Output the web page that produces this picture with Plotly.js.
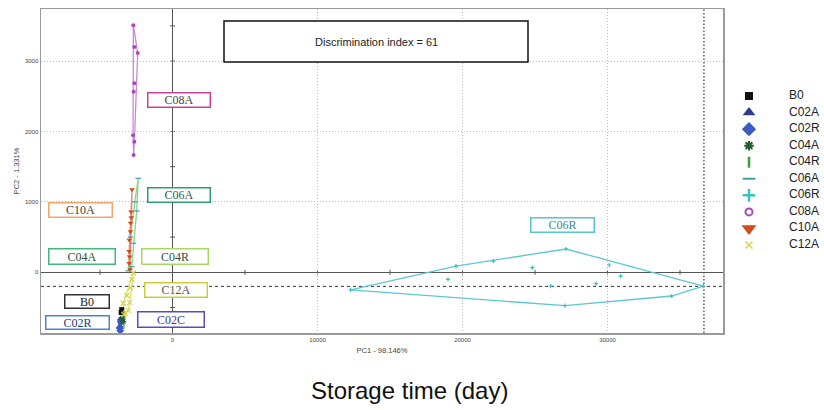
<!DOCTYPE html>
<html>
<head>
<meta charset="utf-8">
<script src="https://cdn.plot.ly/plotly-3.0.1.min.js"></script>
<style>html,body{margin:0;padding:0;background:#fff}#chart{width:824px;height:410px}</style>
</head>
<body>
<div id="chart"></div>
<script>
// ---------------- data ----------------
const categories = ['B0','C02A','C02R','C04A','C04R','C06A','C06R','C08A','C10A','C12A'];

const pc1_B0   = [-3500, -3540];
const pc2_B0   = [-530, -570];
const pc1_C02A = [-3600, -3560, -3620];
const pc2_C02A = [-660, -720, -760];
const pc1_C02R = [-3650, -3600, -3580];
const pc2_C02R = [-790, -830, -700];
const pc1_C04A = [-3400, -3450];
const pc2_C04A = [-700, -650];
const pc1_C04R = [-3300, -3350];
const pc2_C04R = [-600, -760];
const pc1_C06A = [-2360, -2470, -2700, -2810, -3050, -2900, -2600];
const pc2_C06A = [1335, 870, 412, 80, 20, 500, 1000];
const pc1_C06R = [12290, 19550, 22125, 27138, 30124, 36607, 34427, 27069, 19000, 24814, 26083, 29207, 30910];
const pc2_C06R = [-251, 89, 160, 331, 104, -195, -337, -474, -100, 66, -195, -162, -53];
const pc1_C08A = [-2700, -2630, -2400, -2630, -2680, -2720, -2630, -2680];
const pc2_C08A = [3510, 3200, 3115, 2685, 2565, 1945, 1855, 1665];
const pc1_C10A = [-2790, -2860, -2840, -2890, -2900, -2980, -2990, -2950, -2990, -2930];
const pc2_C10A = [1175, 860, 780, 700, 580, 460, 300, 220, 130, 40];
const pc1_C12A = [-2700, -2800, -2900, -3050, -3150, -3400, -3350, -3250, -2950];
const pc2_C12A = [-10, -100, -220, -540, -330, -440, -600, -580, -430];

const labelTexts = ['C08A','C06A','C10A','C04A','C04R','C12A','B0','C02R','C02C','C06R'];
const discriminationIndex = 61;
const pc1Label = 'PC1 - 98.146%';
const pc2Label = 'PC2 - 1.331%';
const xTickVals = [0, 10000, 20000, 30000];
const yTickVals = [0, 1000, 2000, 3000];
const refLinePC2 = -200;
const refLinePC1 = 36650;

// ---------------- styles ----------------
const W = 824, H = 410;
const plotL = 41, plotR = 723, plotT = 9, plotB = 333;
const px = v => v / W;
const py = v => 1 - v / H;

const groups = {
  B0:   {x: pc1_B0,   y: pc2_B0,   sym: 'square',        col: '#111111', size: 5, hull: null},
  C02A: {x: pc1_C02A, y: pc2_C02A, sym: 'triangle-up',   col: '#2b3990', size: 6, hull: null},
  C02R: {x: pc1_C02R, y: pc2_C02R, sym: 'diamond',       col: '#3a5bbf', size: 6, hull: null},
  C04A: {x: pc1_C04A, y: pc2_C04A, sym: 'asterisk-open', col: '#1f5f2a', size: 5, hull: null},
  C04R: {x: pc1_C04R, y: pc2_C04R, sym: 'line-ns-open',  col: '#3aa040', size: 5, hull: null},
  C06A: {x: pc1_C06A, y: pc2_C06A, sym: 'line-ew-open',  col: '#3fa0a0', size: 4, hull: '#8fd08f'},
  C06R: {x: pc1_C06R, y: pc2_C06R, sym: 'cross-thin-open', col: '#3cc0c8', size: 3, hull: '#5cc8d0'},
  C08A: {x: pc1_C08A, y: pc2_C08A, sym: 'circle',        col: '#a848bc', size: 4, hull: '#c88ad8'},
  C10A: {x: pc1_C10A, y: pc2_C10A, sym: 'triangle-down', col: '#d24a1e', size: 5, hull: '#e48a70'},
  C12A: {x: pc1_C12A, y: pc2_C12A, sym: 'x-thin-open',   col: '#d8d050', size: 5, hull: '#e4e070'}
};

const legendStyle = {
  B0:   {sym: 'square',          col: '#111111', size: 8,  lw: 0},
  C02A: {sym: 'triangle-up',     col: '#2b3990', size: 11, lw: 0},
  C02R: {sym: 'diamond',         col: '#3a5bbf', size: 11, lw: 0},
  C04A: {sym: 'asterisk-open',   col: '#1f5f2a', size: 8,  lw: 2},
  C04R: {sym: 'line-ns-open',    col: '#3aa040', size: 8,  lw: 2.5},
  C06A: {sym: 'line-ew-open',    col: '#3fa0a0', size: 9,  lw: 2},
  C06R: {sym: 'cross-thin-open', col: '#3cc0c8', size: 9,  lw: 2.5},
  C08A: {sym: 'circle-open',     col: '#a848bc', size: 7,  lw: 2},
  C10A: {sym: 'triangle-down',   col: '#d24a1e', size: 13, lw: 0},
  C12A: {sym: 'x-thin-open',     col: '#d8d050', size: 7,  lw: 1.5}
};

const labelBoxes = [
  {c: '#c8409c', tc: '#444444', cx: 179.2, cy: 100,   w: 63, h: 15},
  {c: '#2e9c7c', tc: '#2e5858', cx: 179.2, cy: 195,   w: 63, h: 15},
  {c: '#f4a468', tc: '#4a4040', cx: 80.3,  cy: 210,   w: 64, h: 15},
  {c: '#44b87a', tc: '#2a5040', cx: 82,    cy: 256,   w: 67, h: 16},
  {c: '#a8d860', tc: '#3a5040', cx: 174.7, cy: 256.3, w: 67, h: 16},
  {c: '#cccc3c', tc: '#555540', cx: 176,   cy: 290,   w: 63, h: 15},
  {c: '#333333', tc: '#222222', cx: 86.7,  cy: 301,   w: 45, h: 14},
  {c: '#4a84cc', tc: '#2a3a7a', cx: 77.7,  cy: 322.8, w: 64, h: 14},
  {c: '#5a4cb4', tc: '#3a3a8a', cx: 170.7, cy: 319.3, w: 67, h: 16},
  {c: '#56c4cc', tc: '#3a8a94', cx: 562.2, cy: 224.8, w: 64, h: 15}
];

// convex hull (monotone chain)
function hull(xs, ys) {
  const p = xs.map((x, i) => [x, ys[i]]).sort((a, b) => a[0] - b[0] || a[1] - b[1]);
  if (p.length < 3) return p;
  const cross = (o, a, b) => (a[0]-o[0])*(b[1]-o[1]) - (a[1]-o[1])*(b[0]-o[0]);
  const lower = [], upper = [];
  for (const q of p) { while (lower.length >= 2 && cross(lower[lower.length-2], lower[lower.length-1], q) <= 0) lower.pop(); lower.push(q); }
  for (let i = p.length - 1; i >= 0; i--) { const q = p[i]; while (upper.length >= 2 && cross(upper[upper.length-2], upper[upper.length-1], q) <= 0) upper.pop(); upper.push(q); }
  upper.pop(); lower.pop();
  const h = lower.concat(upper);
  h.push(h[0]);
  return h;
}

const traces = [];
categories.forEach(k => {
  const g = groups[k];
  if (g.hull) {
    const h = hull(g.x, g.y);
    traces.push({type: 'scatter', mode: 'lines', x: h.map(q => q[0]), y: h.map(q => q[1]),
      line: {color: g.hull, width: 1.3}, showlegend: false, hoverinfo: 'skip'});
  }
});
categories.forEach(k => {
  const g = groups[k];
  const open = g.sym.indexOf('open') >= 0;
  traces.push({type: 'scatter', mode: 'markers', name: k, x: g.x, y: g.y, showlegend: false,
    marker: {symbol: g.sym, size: g.size, color: g.col, opacity: 1, line: {color: g.col, width: open ? 1.2 : 0}}});
});

// manual legend on its own overlay axes
const legIdx = categories.map((c, i) => i);
traces.push({type: 'scatter', mode: 'markers', xaxis: 'x2', yaxis: 'y2', showlegend: false, hoverinfo: 'skip',
  x: categories.map(() => 19), y: legIdx,
  marker: {symbol: categories.map(k => legendStyle[k].sym), size: categories.map(k => legendStyle[k].size),
    color: categories.map(k => legendStyle[k].col), opacity: 1,
    line: {color: categories.map(k => legendStyle[k].col), width: categories.map(k => legendStyle[k].lw)}}});
traces.push({type: 'scatter', mode: 'text', xaxis: 'x2', yaxis: 'y2', showlegend: false, hoverinfo: 'skip',
  x: categories.map(() => 59), y: legIdx, text: categories, textposition: 'middle right',
  textfont: {family: 'Liberation Sans, Arial, sans-serif', size: 12, color: '#222'}});

// shapes
const shapes = [];
shapes.push({type: 'line', xref: 'x domain', yref: 'y', x0: 0, x1: 1, y0: refLinePC2, y1: refLinePC2,
  line: {color: '#333', width: 1, dash: '3px,3px'}, layer: 'below'});
shapes.push({type: 'line', xref: 'x', yref: 'y domain', x0: refLinePC1, x1: refLinePC1, y0: 0, y1: 1,
  line: {color: '#444', width: 1.3, dash: '1.5px,2px'}, layer: 'below'});
for (let v = -5000; v <= 35000; v += 5000) {
  if (v === 0) continue;
  shapes.push({type: 'line', xref: 'x', yref: 'y', x0: v, x1: v, y0: -35, y1: 35, line: {color: '#555', width: 1}, layer: 'below'});
}
for (let v = -500; v <= 3500; v += 500) {
  if (v === 0) continue;
  shapes.push({type: 'line', xref: 'x', yref: 'y', x0: -170, x1: 170, y0: v, y1: v, line: {color: '#555', width: 1}, layer: 'below'});
}
shapes.push({type: 'rect', xref: 'paper', yref: 'paper', x0: px(224), x1: px(528), y0: py(62), y1: py(21),
  line: {color: '#111', width: 1.5}, fillcolor: '#fff', layer: 'above'});

const annotations = [];
annotations.push({xref: 'paper', yref: 'paper', x: px(376), y: py(42), xanchor: 'center', yanchor: 'middle',
  text: 'Discrimination index = ' + discriminationIndex, showarrow: false,
  font: {family: 'Liberation Sans, Arial, sans-serif', size: 11, color: '#222'}});
labelTexts.forEach((t, i) => {
  const b = labelBoxes[i];
  annotations.push({xref: 'paper', yref: 'paper', x: px(b.cx), y: py(b.cy), xanchor: 'center', yanchor: 'middle',
    text: t, showarrow: false, width: b.w - 4, height: b.h - 4, borderpad: 1, bordercolor: b.c, borderwidth: 1.5,
    bgcolor: '#fff', font: {family: 'Liberation Serif, Times New Roman, serif', size: 12, color: b.tc}});
});
annotations.push({xref: 'paper', yref: 'paper', x: px(409), y: py(390), xanchor: 'center', yanchor: 'middle',
  text: 'Storage time (day)', showarrow: false,
  font: {family: 'Liberation Sans, Arial, sans-serif', size: 24, color: '#111'}});

const xPerPx = 10000 / 145, yPerPx = 1000 / 70.4;
const gridStyle = {showgrid: true, gridcolor: '#bdbdbd', griddash: '1px,2px', gridwidth: 1,
  zeroline: true, zerolinecolor: '#555', zerolinewidth: 1,
  showline: true, mirror: true, linecolor: '#9a9a9a', linewidth: 1.5, ticks: '',
  tickfont: {family: 'Liberation Sans, Arial, sans-serif', size: 6, color: '#444'}};
const layout = {
  width: W, height: H, margin: {l: 0, r: 0, t: 0, b: 0},
  paper_bgcolor: '#fff', plot_bgcolor: '#fff', showlegend: false,
  xaxis: Object.assign({domain: [px(plotL), px(plotR)], range: [(plotL - 172.5) * xPerPx, (plotR - 172.5) * xPerPx],
    tickvals: xTickVals, ticktext: xTickVals.map(String),
    title: {text: pc1Label, standoff: 6, font: {family: 'Liberation Sans, Arial, sans-serif', size: 7.5, color: '#444'}}}, gridStyle),
  yaxis: Object.assign({domain: [py(plotB), py(plotT)], range: [(272.3 - plotB) * yPerPx, (272.3 - plotT) * yPerPx],
    tickvals: yTickVals, ticktext: yTickVals.map(String),
    title: {text: pc2Label, standoff: 4, font: {family: 'Liberation Sans, Arial, sans-serif', size: 7.5, color: '#444'}}}, gridStyle),
  xaxis2: {domain: [px(730), 1], range: [0, 94], visible: false, anchor: 'y2', fixedrange: true},
  yaxis2: {domain: [py(253.25), py(87.75)], range: [9.5, -0.5], visible: false, anchor: 'x2', fixedrange: true},
  shapes: shapes, annotations: annotations
};

Plotly.newPlot('chart', traces, layout, {displayModeBar: false, staticPlot: true});
</script>
</body>
</html>
